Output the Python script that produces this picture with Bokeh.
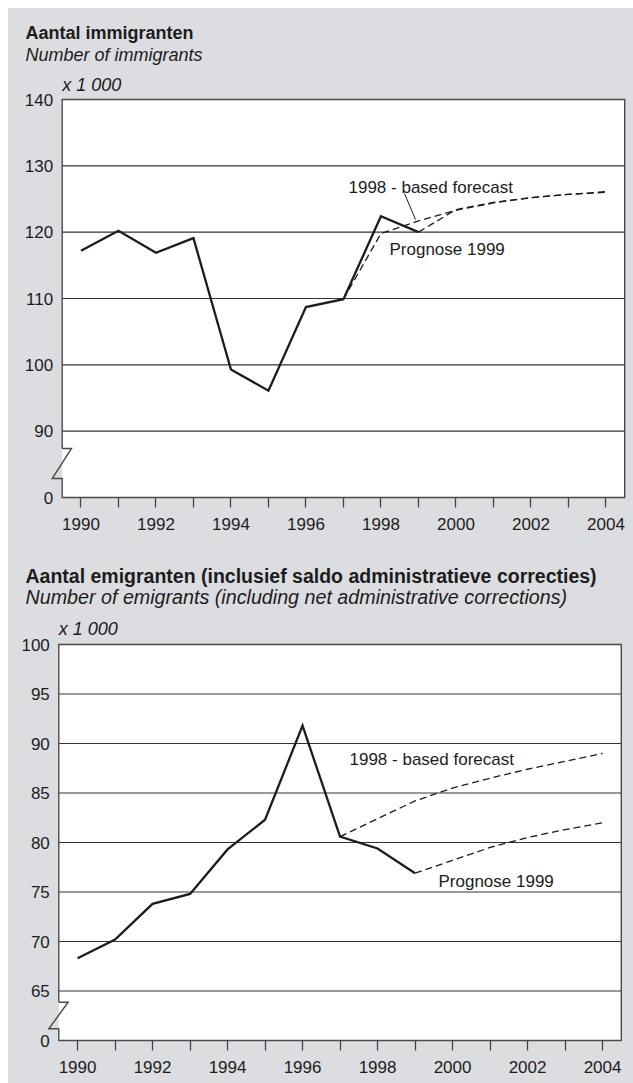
from bokeh.plotting import figure
from bokeh.models import Range1d, FixedTicker, Label
from bokeh.layouts import column
from bokeh.embed import file_html
from bokeh.resources import INLINE

# ---------------- data ----------------
hist_years = [1990, 1991, 1992, 1993, 1994, 1995, 1996, 1997, 1998, 1999]
immigrants = [117.2, 120.2, 116.9, 119.1, 99.3, 96.1, 108.7, 109.9, 122.4, 120.0]
imm_f98_years = [1997, 1998, 1999, 2000, 2001, 2002, 2003, 2004]
imm_f98 = [109.9, 119.8, 121.7, 123.3, 124.4, 125.2, 125.7, 126.0]
imm_p99_years = [1999, 2000, 2001, 2002, 2003, 2004]
imm_p99 = [120.0, 123.4, 124.5, 125.2, 125.7, 126.1]

emigrants = [68.3, 70.2, 73.8, 74.8, 79.3, 82.3, 91.8, 80.6, 79.4, 76.9]
emi_f98_years = [1997, 1998, 1999, 2000, 2001, 2002, 2003, 2004]
emi_f98 = [80.6, 82.4, 84.2, 85.5, 86.5, 87.4, 88.2, 89.0]
emi_p99_years = [1999, 2000, 2001, 2002, 2003, 2004]
emi_p99 = [76.9, 78.2, 79.5, 80.5, 81.3, 82.0]

x_ticks = list(range(1990, 2005))
x_labels = {y: (str(y) if y % 2 == 0 else "") for y in x_ticks}

imm_y_ticks = [80, 90, 100, 110, 120, 130, 140]
imm_y_labels = ["0", "90", "100", "110", "120", "130", "140"]
emi_y_ticks = [60, 65, 70, 75, 80, 85, 90, 95, 100]
emi_y_labels = ["0", "65", "70", "75", "80", "85", "90", "95", "100"]

imm_title = "Aantal immigranten"
imm_subtitle = "Number of immigrants"
emi_title = "Aantal emigranten (inclusief saldo administratieve correcties)"
emi_subtitle = "Number of emigrants (including net administrative corrections)"
unit_text = "x 1 000"
f98_text = "1998 - based forecast"
p99_text = "Prognose 1999"

# ---------------- style ----------------
GRAY = "#dcdde0"
TXT = "#1c1c1c"
FONT = "Liberation Sans"
W = 625
OX = 8        # page x of the figures' left edge
PPX = 37.5    # pixels per year


def make_chart(title, subtitle, y_ticks, y_labels, hist, f98_years, f98,
               p99_years, p99, g):
    oy, H = g["oy"], g["H"]
    y0, y1 = y_ticks[0], y_ticks[-1]
    bx0, bx1 = 1989.5, 2004.5
    ppy = (g["fb"] - g["ft"]) / (y1 - y0)
    x_start = bx0 - (g["bl"] - OX) / PPX
    x_end = x_start + W / PPX
    y_end = y1 + (g["ft"] - oy) / ppy
    y_start = y0 - (oy + H - g["fb"]) / ppy

    def X(px):
        return x_start + (px - OX) / PPX

    def Y(py):
        return y_end - (py - oy) / ppy

    p = figure(width=W, height=H, x_range=Range1d(x_start, x_end),
               y_range=Range1d(y_start, y_end), output_backend="svg",
               toolbar_location=None, title_location=None,
               min_border_left=0, min_border_right=0, min_border_top=0,
               min_border_bottom=0)
    p.background_fill_color = GRAY
    p.border_fill_color = GRAY
    p.outline_line_color = None
    p.grid.visible = False

    # white plot box
    p.quad(left=[bx0], right=[bx1], bottom=[y0], top=[y1],
           fill_color="white", line_color=None)
    # grid lines
    gl = y_ticks[1:-1]
    p.segment(x0=[bx0] * len(gl), x1=[bx1] * len(gl), y0=gl, y1=gl,
              line_color="#333333", line_width=1.1)
    # box outline with axis break
    zt, zb = Y(g["zig_top"]), Y(g["zig_bot"])
    zr, zl = bx0 + g["zig_r"] / PPX, bx0 - g["zig_l"] / PPX
    p.line(x=[bx0, bx0, bx1, bx1, bx0, bx0, zl, zr, bx0],
           y=[zt, y1, y1, y0, y0, zb, zb, zt, zt],
           line_color="#4a4a4a", line_width=1.4, line_join="miter")

    # data lines
    p.line(x=f98_years, y=f98, line_color=TXT, line_width=1.3,
           line_dash="7 4")
    p.line(x=p99_years, y=p99, line_color=TXT, line_width=1.3,
           line_dash="7 4")
    p.line(x=hist_years, y=hist, line_color=TXT, line_width=2.3,
           line_join="miter")

    # axes, fixed onto the box edges
    xa = p.xaxis[0]
    xa.fixed_location = y0
    xa.ticker = FixedTicker(ticks=x_ticks)
    xa.major_label_overrides = x_labels
    xa.axis_line_color = None
    xa.major_tick_in = 0
    xa.major_tick_out = 10
    xa.major_tick_line_color = "#444444"
    xa.major_tick_line_width = 1.3
    xa.minor_tick_line_color = None
    xa.major_label_standoff = 10
    xa.major_label_text_font = FONT
    xa.major_label_text_font_size = "17px"
    xa.major_label_text_color = TXT

    ya = p.yaxis[0]
    ya.fixed_location = bx0
    ya.ticker = FixedTicker(ticks=y_ticks)
    ya.major_label_overrides = {t: l for t, l in zip(y_ticks, y_labels)}
    ya.axis_line_color = None
    ya.major_tick_line_color = None
    ya.minor_tick_line_color = None
    ya.major_tick_in = 0
    ya.major_tick_out = 0
    ya.major_label_standoff = 9
    ya.major_label_text_font = FONT
    ya.major_label_text_font_size = "17px"
    ya.major_label_text_color = TXT

    def lab(text, px, py, size, style="normal"):
        # py is the page y of the text's vertical centre
        p.add_layout(Label(x=X(px), y=Y(py), text=text, text_font=FONT,
                           text_font_size=f"{size}px", text_font_style=style,
                           text_color=TXT, text_baseline="middle",
                           text_align="left"))

    def lab_base(text, px, base, size, style="normal"):
        lab(text, px, base - 0.34 * size, size, style)

    lab_base(title, g["tx"], g["t_base"], g["t_size"], "bold")
    lab_base(subtitle, g["tx"], g["s_base"], g["s_size"], "italic")
    lab_base(unit_text, g["bl"], g["u_base"], 18, "italic")
    lab(f98_text, g["f98x"], g["f98y"], 17)
    lab(p99_text, g["p99x"], g["p99y"], 17)
    if g.get("leader"):
        (ax, ay), (bx, by) = g["leader"]
        p.line(x=[X(ax), X(bx)], y=[Y(ay), Y(by)], line_color=TXT,
               line_width=1.0)
    return p


g1 = dict(oy=8, H=540, bl=61.7, ft=99, fb=497,
          zig_top=448, zig_bot=478, zig_r=9.3, zig_l=10,
          tx=25, t_base=39, s_base=61, u_base=90.7, t_size=18, s_size=18,
          f98x=348, f98y=187, p99x=389, p99y=249,
          leader=((404, 193), (415, 219)))
g2 = dict(oy=548, H=535, bl=58.3, ft=644, fb=1040,
          zig_top=1001.7, zig_bot=1028.3, zig_r=9.4, zig_l=10,
          tx=25, t_base=581.7, s_base=603.3, u_base=635,
          t_size=19.5, s_size=19.7,
          f98x=349, f98y=759, p99x=438, p99y=881, leader=None)

p1 = make_chart(imm_title, imm_subtitle, imm_y_ticks, imm_y_labels,
                immigrants, imm_f98_years, imm_f98, imm_p99_years, imm_p99, g1)
p2 = make_chart(emi_title, emi_subtitle, emi_y_ticks, emi_y_labels,
                emigrants, emi_f98_years, emi_f98, emi_p99_years, emi_p99, g2)

layout = column(p1, p2, spacing=0, margin=(8, 0, 0, 8),
                styles={"background-color": GRAY})
open("out.html", "w").write(file_html(layout, INLINE))
